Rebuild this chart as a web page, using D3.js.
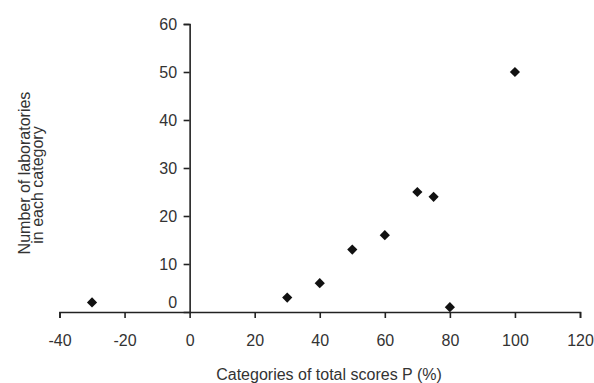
<!DOCTYPE html>
<html>
<head>
<meta charset="utf-8">
<script src="https://cdn.jsdelivr.net/npm/d3@7"></script>
<style>
  body { margin: 0; background: #fff; }
  text { font-family: "Liberation Sans Narrow", "Liberation Sans", sans-serif; fill: #333; }
</style>
</head>
<body>
<div id="chart"></div>
<script>
// data
const scores = [-30, 30, 40, 50, 60, 70, 75, 80, 100];
const labs = [2, 3, 6, 13, 16, 25, 24, 1, 50];
const xTicks = [-40, -20, 0, 20, 40, 60, 80, 100, 120];
const yTicks = [10, 20, 30, 40, 50, 60];

const width = 594;
const height = 383;

const svg = d3.select('#chart')
  .append('svg')
  .attr('width', width)
  .attr('height', height);

// scales
const x = d3.scaleLinear().domain([-40, 120]).range([59.5, 580]);
const y = d3.scaleLinear().domain([0, 60]).range([312, 24]);

// x axis (plain hyphen for negatives, like the original)
const axisX = d3.axisBottom(x)
  .tickValues(xTicks)
  .tickFormat(d => String(d))
  .tickSize(6)
  .tickPadding(17);
const gx = svg.append('g')
  .attr('transform', `translate(0, ${y(0)})`)
  .call(axisX);
gx.select('.domain').attr('stroke', '#222').attr('stroke-width', 1.6);
gx.selectAll('.tick line').attr('stroke', '#222').attr('stroke-width', 1.6);
gx.selectAll('text').attr('font-size', 16).style('fill', '#333');

// y axis, crossing at x = 0
const axisY = d3.axisLeft(y).tickValues(yTicks).tickSizeOuter(0).tickSize(6).tickPadding(6.5);
const gy = svg.append('g')
  .attr('transform', `translate(${x(0)}, 0)`)
  .call(axisY);
gy.select('.domain').attr('stroke', '#222').attr('stroke-width', 1.6);
gy.selectAll('.tick line').attr('stroke', '#222').attr('stroke-width', 1.6);
gy.selectAll('text').attr('font-size', 16).style('fill', '#333');

// the zero label sits above the x axis, without a tick
svg.append('text')
  .attr('x', x(0) - 12.5)
  .attr('y', y(0) - 4)
  .attr('text-anchor', 'end')
  .attr('font-size', 16)
  .text('0');

// diamonds: squares turned 45 degrees
const diamond = d3.symbol().type(d3.symbolSquare).size(52);
svg.append('g')
  .selectAll('path')
  .data(scores)
  .enter()
  .append('path')
  .attr('d', diamond)
  .attr('transform', (d, i) => `translate(${x(d)}, ${y(labs[i])}) rotate(45)`)
  .attr('fill', '#111');

// axis titles
svg.append('text')
  .attr('x', 329)
  .attr('y', 380)
  .attr('text-anchor', 'middle')
  .attr('font-size', 16)
  .text('Categories of total scores P (%)');

svg.append('text')
  .attr('transform', 'translate(30, 173) rotate(-90)')
  .attr('text-anchor', 'middle')
  .attr('font-size', 16)
  .text('Number of laboratories');

svg.append('text')
  .attr('transform', 'translate(43, 185) rotate(-90)')
  .attr('text-anchor', 'middle')
  .attr('font-size', 16)
  .text('in each category');
</script>
</body>
</html>
